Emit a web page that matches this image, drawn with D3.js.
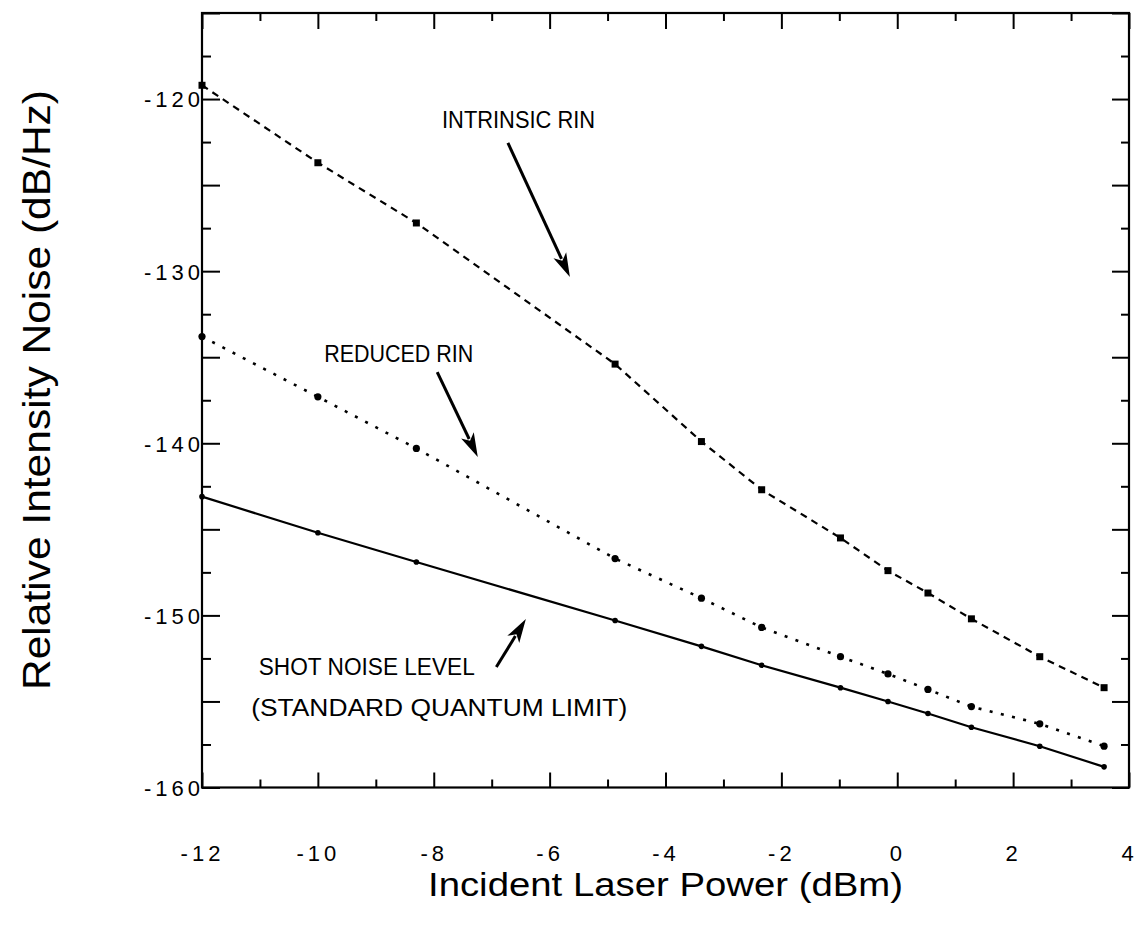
<!DOCTYPE html>
<html>
<head>
<meta charset="utf-8">
<script src="https://cdn.jsdelivr.net/npm/d3@7"></script>
<style>
  html, body { margin: 0; padding: 0; background: #fff; }
  svg { display: block; }
  text { font-family: "Liberation Sans", Arial, Helvetica, sans-serif; fill: #000; }
</style>
</head>
<body>
<svg id="chart" width="1137" height="931"></svg>
<script>
// Incident laser power (dBm) of each measurement
const powerDbm = [-12, -10, -8.3, -4.87, -3.38, -2.34, -0.98, -0.16, 0.53, 1.28, 2.46, 3.57];
// Relative intensity noise (dB/Hz) of each curve
const intrinsicRin = [-119.2, -123.7, -127.2, -135.4, -139.9, -142.7, -145.5, -147.4, -148.7, -150.2, -152.4, -154.2];
const reducedRin   = [-133.8, -137.3, -140.3, -146.7, -149.0, -150.7, -152.4, -153.4, -154.3, -155.3, -156.3, -157.6];
const shotNoise    = [-143.1, -145.2, -146.9, -150.3, -151.8, -152.9, -154.2, -155.0, -155.7, -156.5, -157.6, -158.8];

// Axis ticks
const xMajorTicks = [-12, -10, -8, -6, -4, -2, 0, 2, 4];
const xMinorTicks = [-11, -9, -7, -5, -3, -1, 1, 3];
const yLabelTicks = [-120, -130, -140, -150, -160];
const yMajorTicks = [-160, -155, -150, -145, -140, -135, -130, -125, -120, -115];
const yMinorTicks = [-157.5, -152.5, -147.5, -142.5, -137.5, -132.5, -127.5, -122.5, -117.5];

// Curve labels with their arrows (data units)
const labelTexts = ["INTRINSIC RIN", "REDUCED RIN", "SHOT NOISE LEVEL", "(STANDARD QUANTUM LIMIT)"];
const labelX = [-7.857, -9.89, -11.02, -11.15];
const labelY = [-121.68, -135.28, -153.46, -155.85];
const labelWidth = [153, 149, 216, 376];
const arrowFrom = [[-6.72, -122.55], [-7.94, -135.86], [-6.92, -153.0]];
const arrowTo   = [[-5.65, -130.34], [-7.24, -140.80], [-6.41, -150.21]];

const svg = d3.select("#chart");
const plotLeft = 202, plotRight = 1129, plotTop = 13, plotBottom = 787.5;

const x = d3.scaleLinear().domain([-12, 4]).range([plotLeft, plotRight]);
const y = d3.scaleLinear().domain([-160, -115]).range([plotBottom, plotTop]);

const fmt = d => String(d);

// Inward ticks on all four sides
function tickAxis(axisFn, scale, values, size, tx, ty) {
  const g = svg.append("g")
    .attr("transform", `translate(${tx},${ty})`)
    .call(axisFn(scale).tickValues(values).tickSizeInner(-size).tickSizeOuter(0).tickFormat(""));
  g.select(".domain").remove();
  g.selectAll("line").attr("stroke", "#000").attr("stroke-width", 2);
  return g;
}
tickAxis(d3.axisBottom, x, xMajorTicks, 15, 0, plotBottom);
tickAxis(d3.axisBottom, x, xMinorTicks, 8, 0, plotBottom);
tickAxis(d3.axisTop, x, xMajorTicks, 16, 0, plotTop);
tickAxis(d3.axisTop, x, xMinorTicks, 8, 0, plotTop);
tickAxis(d3.axisLeft, y, yMajorTicks, 18, plotLeft, 0);
tickAxis(d3.axisLeft, y, yMinorTicks, 9, plotLeft, 0);
tickAxis(d3.axisRight, y, yMajorTicks, 17, plotRight, 0);
tickAxis(d3.axisRight, y, yMinorTicks, 8, plotRight, 0);

// Tick labels
const xLab = svg.append("g")
  .attr("transform", `translate(0,${plotBottom})`)
  .call(d3.axisBottom(x).tickValues(xMajorTicks).tickSize(0).tickFormat(fmt));
xLab.select(".domain").remove();
xLab.selectAll("text")
  .attr("y", 73).attr("dy", 0)
  .attr("dx", 0)
  .style("font-size", "22px")
  .style("letter-spacing", "4px")
  .style("font-family", "'Liberation Sans', Arial, sans-serif");

const yLab = svg.append("g")
  .attr("transform", `translate(${plotLeft},0)`)
  .call(d3.axisLeft(y).tickValues(yLabelTicks).tickSize(0).tickFormat(fmt));
yLab.select(".domain").remove();
yLab.selectAll("text")
  .attr("x", 2).attr("dy", "0.36em")
  .style("font-size", "22px")
  .style("letter-spacing", "4px")
  .style("font-family", "'Liberation Sans', Arial, sans-serif");

// Plot frame
svg.append("rect")
  .attr("x", plotLeft).attr("y", plotTop)
  .attr("width", plotRight - plotLeft).attr("height", plotBottom - plotTop)
  .attr("fill", "none").attr("stroke", "#000").attr("stroke-width", 2.2);

// Curves
const line = d3.line().x(d => x(d[0])).y(d => y(d[1]));
const zip = vals => powerDbm.map((p, i) => [p, vals[i]]);

svg.append("path").datum(zip(intrinsicRin)).attr("d", line)
  .attr("fill", "none").attr("stroke", "#000").attr("stroke-width", 2.2)
  .attr("stroke-dasharray", "7,5.5");
svg.append("path").datum(zip(reducedRin)).attr("d", line)
  .attr("fill", "none").attr("stroke", "#000").attr("stroke-width", 2.6)
  .attr("stroke-dasharray", "3,8.5");
svg.append("path").datum(zip(shotNoise)).attr("d", line)
  .attr("fill", "none").attr("stroke", "#000").attr("stroke-width", 2.2);

// Markers
svg.append("g").selectAll("rect").data(zip(intrinsicRin)).join("rect")
  .attr("x", d => x(d[0]) - 3.5).attr("y", d => y(d[1]) - 3.5)
  .attr("width", 7).attr("height", 7).attr("fill", "#000");
svg.append("g").selectAll("circle").data(zip(reducedRin)).join("circle")
  .attr("cx", d => x(d[0])).attr("cy", d => y(d[1])).attr("r", 3.6).attr("fill", "#000");
svg.append("g").selectAll("circle").data(zip(shotNoise)).join("circle")
  .attr("cx", d => x(d[0])).attr("cy", d => y(d[1])).attr("r", 2.8).attr("fill", "#000");

// Curve labels
svg.append("g").selectAll("text").data(labelTexts).join("text")
  .attr("x", (d, i) => x(labelX[i]))
  .attr("y", (d, i) => y(labelY[i]))
  .attr("textLength", (d, i) => labelWidth[i])
  .attr("lengthAdjust", "spacingAndGlyphs")
  .style("font-size", "23px")
  .text(d => d);

// Arrows with filled heads
arrowFrom.forEach((a, i) => {
  const x0 = x(a[0]), y0 = y(a[1]);
  const x1 = x(arrowTo[i][0]), y1 = y(arrowTo[i][1]);
  const ang = Math.atan2(y1 - y0, x1 - x0);
  const headLen = 24, headHalf = 7;
  const bx = x1 - headLen * Math.cos(ang), by = y1 - headLen * Math.sin(ang);
  const px = -Math.sin(ang) * headHalf, py = Math.cos(ang) * headHalf;
  svg.append("line")
    .attr("x1", x0).attr("y1", y0).attr("x2", bx + 4 * Math.cos(ang)).attr("y2", by + 4 * Math.sin(ang))
    .attr("stroke", "#000").attr("stroke-width", 3);
  svg.append("path")
    .attr("d", `M${x1},${y1}L${bx + px},${by + py}L${bx + 6 * Math.cos(ang)},${by + 6 * Math.sin(ang)}L${bx - px},${by - py}Z`)
    .attr("fill", "#000");
});

// Axis titles
svg.append("text")
  .attr("x", 428).attr("y", 896)
  .attr("textLength", 475).attr("lengthAdjust", "spacingAndGlyphs")
  .style("font-size", "34px")
  .text("Incident Laser Power (dBm)");

svg.append("text")
  .attr("transform", "translate(50,690) rotate(-90)")
  .attr("textLength", 600).attr("lengthAdjust", "spacingAndGlyphs")
  .style("font-size", "38px")
  .text("Relative Intensity Noise (dB/Hz)");
</script>
</body>
</html>
